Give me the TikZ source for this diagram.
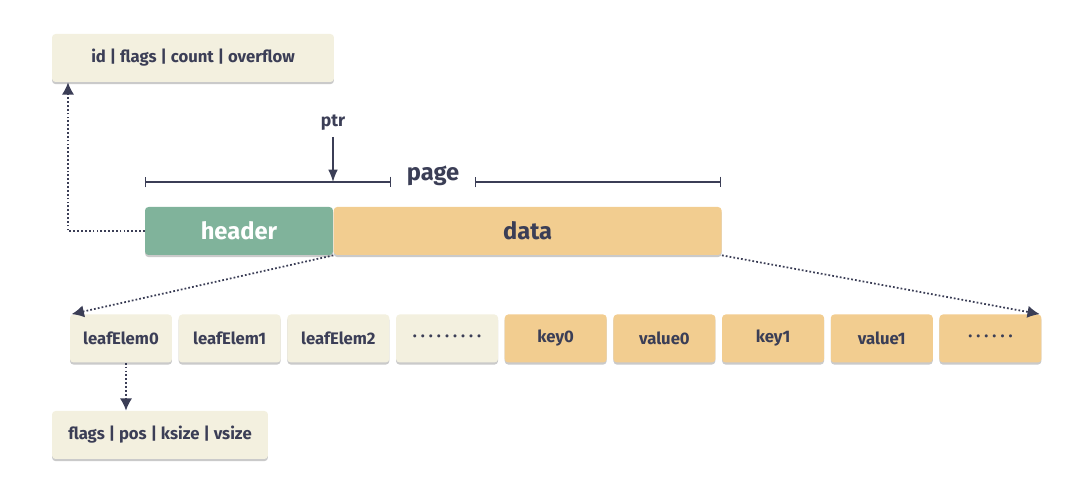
\documentclass[tikz,border=0pt]{standalone}
\usepackage{fontspec}
\setmainfont{Fira Sans}
\usetikzlibrary{positioning,arrows.meta,shadows}
\definecolor{ink}{HTML}{3B3E56}
\definecolor{cream}{HTML}{F3F0DF}
\definecolor{sand}{HTML}{F2CD90}
\definecolor{sage}{HTML}{80B39B}

\newcommand{\dotsrow}[1]{\foreach \i in {1,...,#1}{\ifnum\i>1\hspace{2.3pt}\fi\textperiodcentered}}

\tikzset{
  cell/.style={rectangle, rounded corners=2pt, fill=cream, minimum height=0.96cm,
    minimum width=2.04cm, inner sep=0pt, text=ink,
    font=\fontsize{9.5}{11}\selectfont\bfseries,
    drop shadow={shadow xshift=0pt, shadow yshift=-1.2pt, fill=black!35, opacity=0.6}},
  keycell/.style={cell, fill=sand},
  pagebox/.style={cell, font=\fontsize{13.5}{15}\selectfont\bfseries},
  link/.style={ink, line width=1pt, dash pattern=on 1pt off 1.2pt, -{Latex[length=7pt,width=7pt]}},
  pointer/.style={ink, line width=0.8pt, -{Latex[length=7pt,width=5.5pt]}},
  span/.style={ink, line width=0.8pt, {Bar[width=6pt]}-{Bar[width=6pt]}}
}

\begin{document}
\begin{tikzpicture}[x=0.02cm, y=-0.02cm]
    \useasboundingbox (0,0) rectangle (1080,499);

    % header and page layout
    \node[cell, minimum width=5.64cm] (meta) at (193,58) {id | flags | count | overflow};
    \node[pagebox, fill=sage, text=white, minimum width=3.76cm] (hdr) at (239,231) {header};
    \node[pagebox, fill=sand, minimum width=7.76cm, right=0pt of hdr] (data) {data};

    % page span and pointer
    \coordinate (spanL) at (145,182);
    \coordinate (spanR) at (721,182);
    \node[text=ink, font=\fontsize{13.5}{15}\selectfont\bfseries, inner xsep=0.3cm] (page) at (433,176) {page};
    \node[text=ink, font=\fontsize{10}{12}\selectfont\bfseries] (ptr) at (333,123) {ptr};
    \draw[span] (spanL) -- (spanL -| page.west);
    \draw[span] (spanR -| page.east) -- (spanR);
    \draw[pointer] (ptr.south) -- (ptr.south |- spanL);

    % leaf elements followed by keys and values
    \node[cell] (e0) at (121,338.5) {leafElem0};
    \node[cell, right=0.12cm of e0] (e1) {leafElem1};
    \node[cell, right=0.12cm of e1] (e2) {leafElem2};
    \node[cell, right=0.12cm of e2] (e3) {\dotsrow{9}};
    \node[keycell, right=0.12cm of e3] (k0) {key0};
    \node[keycell, right=0.12cm of k0] (v0) {value0};
    \node[keycell, right=0.12cm of v0] (k1) {key1};
    \node[keycell, right=0.12cm of k1] (v1) {value1};
    \node[keycell, right=0.12cm of v1] (rest) {\dotsrow{6}};

    \node[cell, minimum width=4.32cm] (elem) at (160,435) {flags | pos | ksize | vsize};

    % dotted links
    \coordinate (bend) at (68,231);
    \draw[link] (hdr.west) -- (bend) -- (bend |- meta.south);
    \draw[link] (data.south west) -- ([xshift=0.04cm]e0.north west);
    \draw[link] (data.south east) -- ([xshift=-0.04cm]rest.north east);
    \draw[link] ([xshift=0.1cm]e0.south) -- ([xshift=0.1cm]e0.south |- elem.north);

\end{tikzpicture}
\end{document}
